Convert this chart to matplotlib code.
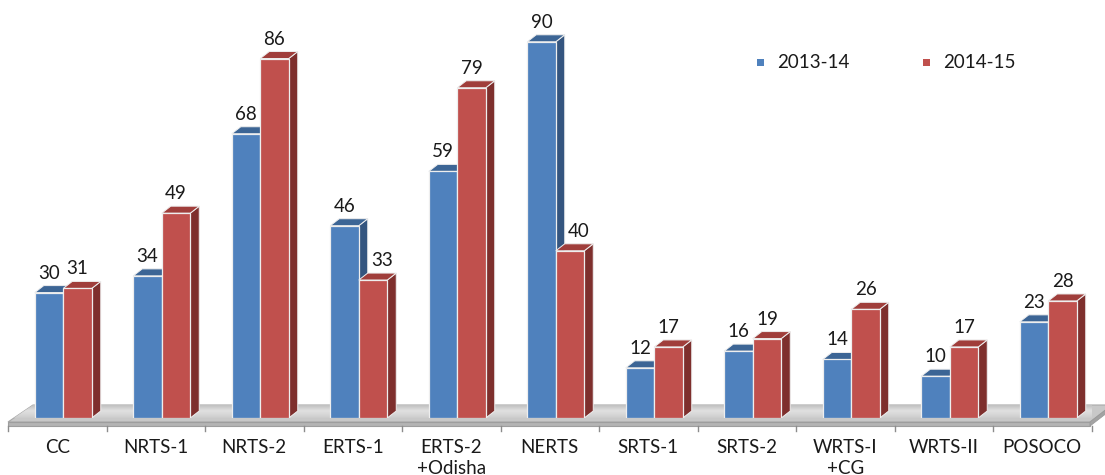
import matplotlib
matplotlib.use("Agg")
import matplotlib.pyplot as plt
from matplotlib.patches import Polygon, Rectangle
from matplotlib.colors import LinearSegmentedColormap
import numpy as np

# Data
categories = ["CC", "NRTS-1", "NRTS-2", "ERTS-1", "ERTS-2\n+Odisha", "NERTS",
              "SRTS-1", "SRTS-2", "WRTS-I\n+CG", "WRTS-II", "POSOCO"]
series_names = ["2013-14", "2014-15"]
values_1314 = [30, 34, 68, 46, 59, 90, 12, 16, 14, 10, 23]
values_1415 = [31, 49, 86, 33, 79, 40, 17, 19, 26, 17, 28]

FONT = ["Lato", "DejaVu Sans"]
plt.rcParams["font.family"] = FONT

W, H = 1105, 475
fig = plt.figure(figsize=(W / 100, H / 100), dpi=100)
fig.patch.set_facecolor("white")

px_x = 98.5          # pixels per category
px_y = 4.18          # pixels per value unit
left_px, base_px = 8, 418
ax = fig.add_axes([left_px / W, (H - base_px) / H, px_x * 11 / W, px_y * 100 / H])
ax.set_xlim(-0.5, 10.5)
ax.set_ylim(0, 100)
ax.axis("off")

# pseudo-3D geometry (data units)
bw = 28.5 / px_x
dx = 9 / px_x
dy = 7 / px_y
pair_shift = 6 / px_x

styles = {
    0: dict(front="#4f81bd", top="#3c6595", side="#34557f"),
    1: dict(front="#c0504d", top="#a03e3b", side="#7e2f2d"),
}

# floor
fl_front = -4 / px_y
fl_back = 13 / px_y
fl_thick = 4 / px_y
fl_dx_l = 25 / px_x
fl_dx_r = 22 / px_x
x0, x1 = -0.5, 10.5 - 1.5 / px_x
floor_top = Polygon([(x0, fl_front), (x1, fl_front), (x1 + fl_dx_r, fl_back),
                     (x0 + fl_dx_l, fl_back)],
                    closed=True, facecolor="#c8c8c8", edgecolor="#a8a8a8", lw=0.8,
                    clip_on=False, zorder=1)
ax.add_patch(floor_top)
grad = np.linspace(0, 1, 64).reshape(-1, 1)
im = ax.imshow(grad, extent=(x0, x1 + fl_dx_r, fl_front, fl_back), aspect="auto",
               cmap=LinearSegmentedColormap.from_list(
                   "fl", ["#b9b9b9", "#d2d2d2", "#e0e0e0", "#c0c0c0"]),
               origin="lower", zorder=1.1)
im.set_clip_path(floor_top)
im.set_clip_box(None)
ax.set_xlim(-0.5, 10.5)
ax.set_ylim(0, 100)
floor_front = Polygon([(x0, fl_front), (x1, fl_front), (x1, fl_front - fl_thick),
                       (x0, fl_front - fl_thick)],
                      closed=True, facecolor="#b4b4b4", edgecolor="#9e9e9e", lw=0.8,
                      clip_on=False, zorder=1.2)
ax.add_patch(floor_front)
floor_side = Polygon([(x1, fl_front), (x1 + fl_dx_r, fl_back),
                      (x1 + fl_dx_r, fl_back - fl_thick), (x1, fl_front - fl_thick)],
                     closed=True, facecolor="#a3a3a3", edgecolor="#9a9a9a", lw=0.6,
                     clip_on=False, zorder=1.2)
ax.add_patch(floor_side)

# category ticks
tick_top = fl_front - fl_thick
for k in range(12):
    xb = -0.5 + k
    ax.plot([xb, xb], [tick_top, tick_top - 5 / px_y], color="#8c8c8c", lw=1,
            clip_on=False, zorder=1.3)

x = np.arange(len(categories))
all_vals = [values_1314, values_1415]
label_w = 22 / px_x
for s, vals in enumerate(all_vals):
    st = styles[s]
    centers = x + pair_shift + (s - 0.5) * bw
    ax.bar(centers, vals, width=bw, color=st["front"], edgecolor="#eeeeee",
           linewidth=0.9, zorder=3 + s)
    for i, (c, v) in enumerate(zip(centers, vals)):
        l, r = c - bw / 2, c + bw / 2
        top = Polygon([(l, v), (r, v), (r + dx, v + dy), (l + dx, v + dy)], closed=True,
                      facecolor=st["top"], edgecolor="#eeeeee", lw=0.7, zorder=2.9 + s)
        side = Polygon([(r, 0), (r + dx, dy), (r + dx, v + dy), (r, v)], closed=True,
                       facecolor=st["side"], edgecolor="#eeeeee", lw=0.7, zorder=2.9 + s)
        ax.add_patch(side)
        ax.add_patch(top)
        tx = c
        if s == 1 and all_vals[0][i] > v:
            # keep the label clear of the taller neighbour's side face
            tx = max(c, c + dx + 2 / px_x + label_w / 2 - bw / 2 + 1 / px_x)
        ax.text(tx, v + 14 / px_y, f"{v}", ha="center", va="baseline",
                fontsize=13.5, color="#1a1a1a", zorder=6)

# category labels
for i, cat in enumerate(categories):
    for j, ln in enumerate(cat.split("\n")):
        ax.text(i, -(35 + 21 * j) / px_y, ln, ha="center", va="baseline",
                fontsize=13.5, color="#1a1a1a", clip_on=False)

# legend
legend_items = [(760, series_names[0], styles[0]["front"]),
                (926, series_names[1], styles[1]["front"])]
for cx, name, col in legend_items:
    fig.patches.append(Rectangle(((cx - 3.5) / W, 1 - (62 + 3.5) / H), 7 / W, 7 / H,
                                 transform=fig.transFigure, facecolor=col,
                                 edgecolor="none"))
    fig.text((cx + 17) / W, 1 - 62 / H, name, ha="left", va="center",
             fontsize=13.5, color="#1a1a1a")

fig.savefig("out.png", dpi=100, facecolor="white")
